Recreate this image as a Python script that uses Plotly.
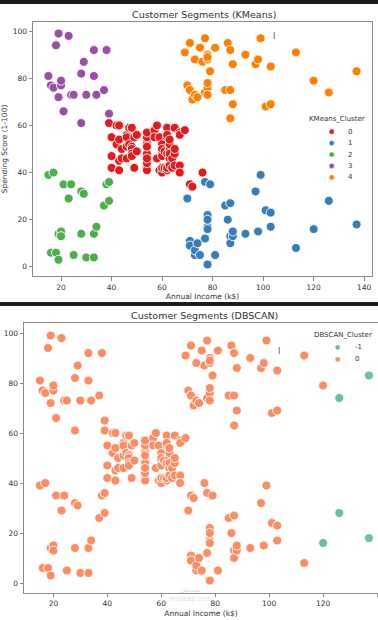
import plotly.graph_objects as go

# ---------------- data (Mall customers) ----------------
income = [15, 15, 16, 16, 17, 17, 18, 18, 19, 19, 19, 19, 20, 20, 20, 20, 21, 21, 23, 23,
          24, 24, 25, 25, 28, 28, 28, 28, 29, 29, 30, 30, 33, 33, 33, 33, 34, 34, 37, 37,
          38, 38, 39, 39, 39, 39, 40, 40, 40, 40, 42, 42, 43, 43, 43, 43, 44, 44, 46, 46,
          46, 46, 47, 47, 48, 48, 48, 48, 48, 48, 49, 49, 50, 50, 54, 54, 54, 54, 54, 54,
          54, 54, 54, 54, 54, 54, 57, 57, 58, 58, 59, 59, 60, 60, 60, 60, 60, 60, 61, 61,
          62, 62, 62, 62, 62, 62, 63, 63, 63, 63, 63, 63, 64, 64, 65, 65, 65, 65, 67, 67,
          67, 67, 69, 69, 70, 70, 71, 71, 71, 71, 71, 71, 72, 72, 73, 73, 73, 73, 74, 74,
          75, 75, 76, 76, 77, 77, 77, 77, 78, 78, 78, 78, 78, 78, 78, 78, 78, 78, 78, 78,
          79, 79, 81, 81, 85, 85, 86, 86, 87, 87, 87, 87, 87, 87, 88, 88, 88, 88, 93, 93,
          97, 97, 98, 98, 99, 99, 101, 101, 103, 103, 103, 103, 113, 113, 120, 120, 126, 126, 137, 137]
score = [39, 81, 6, 77, 40, 76, 6, 94, 3, 72, 14, 99, 15, 77, 13, 79, 35, 66, 29, 98,
         35, 73, 5, 73, 14, 82, 32, 61, 31, 87, 4, 73, 4, 92, 14, 81, 17, 73, 26, 75,
         35, 92, 36, 61, 28, 65, 55, 47, 42, 42, 52, 60, 54, 60, 45, 41, 50, 46, 51, 46,
         56, 55, 52, 59, 51, 59, 50, 48, 59, 47, 55, 42, 49, 56, 47, 54, 53, 48, 52, 42,
         51, 55, 41, 44, 57, 46, 58, 55, 60, 46, 55, 41, 49, 40, 42, 52, 47, 50, 42, 49,
         41, 48, 59, 55, 56, 42, 50, 46, 43, 48, 52, 54, 42, 46, 48, 50, 43, 59, 43, 57,
         56, 40, 58, 91, 29, 77, 35, 95, 11, 75, 9, 75, 34, 71, 5, 88, 7, 73, 10, 72,
         5, 93, 40, 87, 12, 97, 36, 74, 22, 90, 17, 88, 20, 76, 16, 89, 1, 78, 1, 73,
         35, 83, 5, 93, 26, 75, 20, 95, 27, 63, 13, 75, 10, 92, 13, 86, 15, 69, 14, 90,
         32, 86, 15, 88, 39, 97, 24, 68, 17, 85, 23, 69, 8, 91, 16, 79, 28, 74, 18, 83]
kmeans_cluster = [2, 3, 2, 3, 2, 3, 2, 3, 2, 3, 2, 3, 2, 3, 2, 3, 2, 3, 2, 3,
                  2, 3, 2, 3, 2, 3, 2, 3, 2, 3, 2, 3, 2, 3, 2, 3, 2, 3, 2, 3,
                  2, 3, 2, 0, 2, 3, 0, 0, 0, 0, 0, 0, 0, 0, 0, 0, 0, 0, 0, 0,
                  0, 0, 0, 0, 0, 0, 0, 0, 0, 0, 0, 0, 0, 0, 0, 0, 0, 0, 0, 0,
                  0, 0, 0, 0, 0, 0, 0, 0, 0, 0, 0, 0, 0, 0, 0, 0, 0, 0, 0, 0,
                  0, 0, 0, 0, 0, 0, 0, 0, 0, 0, 0, 0, 0, 0, 0, 0, 0, 0, 0, 0,
                  0, 0, 0, 4, 1, 4, 0, 4, 1, 4, 1, 4, 0, 4, 1, 4, 1, 4, 1, 4,
                  1, 4, 0, 4, 1, 4, 1, 4, 1, 4, 1, 4, 1, 4, 1, 4, 1, 4, 1, 4,
                  1, 4, 1, 4, 1, 4, 1, 4, 1, 4, 1, 4, 1, 4, 1, 4, 1, 4, 1, 4,
                  1, 4, 1, 4, 1, 4, 1, 4, 1, 4, 1, 4, 1, 4, 1, 4, 1, 4, 1, 4]
dbscan_cluster = [0] * 194 + [-1, 0, -1, -1, -1, -1]

kmeans_labels = [0, 1, 2, 3, 4]
dbscan_labels = [-1, 0]
x_ticks = [20, 40, 60, 80, 100, 120, 140]
y_ticks = [0, 20, 40, 60, 80, 100]

kmeans_palette = {0: "#e41a1c", 1: "#377eb8", 2: "#4daf4a", 3: "#984ea3", 4: "#ff7f00"}
dbscan_palette = {-1: "#66c2a5", 0: "#fc8d62"}

W, H = 378, 620
TXT = "#333333"
SPINE = "#8a8a8a"
FONT = "DejaVu Sans"


def px(x):
    return x / W


def py(y):
    return 1 - y / H


fig = go.Figure()

fig.add_trace(go.Scatter(
    x=income, y=score, mode="markers", xaxis="x", yaxis="y", showlegend=False,
    marker=dict(size=9, color=[kmeans_palette[c] for c in kmeans_cluster],
                line=dict(color="white", width=0.9)),
))
fig.add_trace(go.Scatter(
    x=income, y=score, mode="markers", xaxis="x2", yaxis="y2", showlegend=False,
    marker=dict(size=9, color=[dbscan_palette[c] for c in dbscan_cluster],
                line=dict(color="white", width=0.9)),
))

axis_common = dict(showgrid=False, zeroline=False, showline=True, linecolor=SPINE,
                   linewidth=1, ticks="outside", ticklen=3.5, tickcolor=SPINE, automargin=False,
                   tickfont=dict(family=FONT, size=7.5, color=TXT))

fig.update_layout(
    template="none",
    width=W, height=H,
    margin=dict(l=0, r=0, t=0, b=0, pad=0),
    paper_bgcolor="white", plot_bgcolor="white",
    font=dict(family=FONT, color=TXT),
    xaxis=dict(domain=[px(33), px(372)], range=[8.9, 143.1], tickvals=x_ticks,
               mirror=True, anchor="y",
               title=dict(text="Annual Income (k$)", font=dict(size=7.5, family=FONT, color=TXT), standoff=3),
               **axis_common),
    yaxis=dict(domain=[py(276), py(22)], range=[-3.9, 103.9], tickvals=y_ticks,
               mirror=True, anchor="x",
               title=dict(text="Spending Score (1-100)", font=dict(size=7.5, family=FONT, color=TXT), standoff=4),
               **axis_common),
    xaxis2=dict(domain=[px(24), 1], range=[9.1, 140.35], tickvals=x_ticks,
                mirror=True, anchor="y2",
                title=dict(text="Annual Income (k$)", font=dict(size=7.5, family=FONT, color=TXT), standoff=3),
                **axis_common),
    yaxis2=dict(domain=[py(592.75), py(323.3)], range=[-3.9, 103.9], tickvals=y_ticks,
                mirror=False, anchor="x2", **axis_common),
)

shapes = [
    dict(type="rect", xref="paper", yref="paper", x0=0, x1=1, y0=py(4), y1=1,
         fillcolor="#1b1b1b", line=dict(width=0), layer="above"),
    dict(type="rect", xref="paper", yref="paper", x0=0, x1=1, y0=py(306), y1=py(302),
         fillcolor="#1b1b1b", line=dict(width=0), layer="above"),
]

annotations = [
    dict(text="Customer Segments (KMeans)", x=px(204), y=py(14), xref="paper", yref="paper",
         showarrow=False, font=dict(size=9.5, family=FONT, color=TXT), xanchor="center", yanchor="middle"),
    dict(text="Customer Segments (DBSCAN)", x=px(204), y=py(315.5), xref="paper", yref="paper",
         showarrow=False, font=dict(size=9.5, family=FONT, color=TXT), xanchor="center", yanchor="middle"),
    dict(text="KMeans_Cluster", x=px(337), y=py(119), xref="paper", yref="paper",
         showarrow=False, font=dict(size=7, family=FONT, color=TXT), xanchor="center", yanchor="middle"),
    dict(text="DBSCAN_Cluster", x=px(312), y=py(335), xref="paper", yref="paper",
         showarrow=False, font=dict(size=7, family=FONT, color=TXT), xanchor="left", yanchor="middle"),
    dict(text="I", x=px(274), y=py(36), xref="paper", yref="paper",
         showarrow=False, font=dict(size=8, family=FONT, color="#555"), xanchor="center", yanchor="middle"),
    dict(text="I", x=px(279), y=py(351), xref="paper", yref="paper",
         showarrow=False, font=dict(size=8, family=FONT, color="#555"), xanchor="center", yanchor="middle"),
    dict(text="مستقل<br>mostaql.com", x=px(190), y=py(594), xref="paper", yref="paper",
         showarrow=False, font=dict(size=7, family="Noto Sans", color="rgba(150,150,150,0.35)"),
         xanchor="center", yanchor="middle"),
]

# legend entries (KMeans)
for i, lab in enumerate(kmeans_labels):
    yy = 131.7 + i * 11.4
    shapes.append(dict(type="circle", xref="paper", yref="paper",
                       x0=px(331.7 - 2.6), x1=px(331.7 + 2.6), y0=py(yy + 2.6), y1=py(yy - 2.6),
                       fillcolor=kmeans_palette[lab], line=dict(color="white", width=0.5)))
    annotations.append(dict(text=str(lab), x=px(345.5), y=py(yy), xref="paper", yref="paper",
                            showarrow=False, font=dict(size=7, family=FONT, color=TXT),
                            xanchor="left", yanchor="middle"))

# legend entries (DBSCAN)
for i, lab in enumerate(dbscan_labels):
    yy = 347.3 + i * 12
    shapes.append(dict(type="circle", xref="paper", yref="paper",
                       x0=px(337.7 - 2.6), x1=px(337.7 + 2.6), y0=py(yy + 2.6), y1=py(yy - 2.6),
                       fillcolor=dbscan_palette[lab], line=dict(color="white", width=0.5)))
    annotations.append(dict(text=str(lab), x=px(352.5), y=py(yy), xref="paper", yref="paper",
                            showarrow=False, font=dict(size=7, family=FONT, color=TXT),
                            xanchor="left", yanchor="middle"))

fig.update_layout(shapes=shapes, annotations=annotations)

fig.write_html("out.html", config={"displayModeBar": False},
               post_script="document.body.style.margin='0';document.body.style.overflow='hidden';")
